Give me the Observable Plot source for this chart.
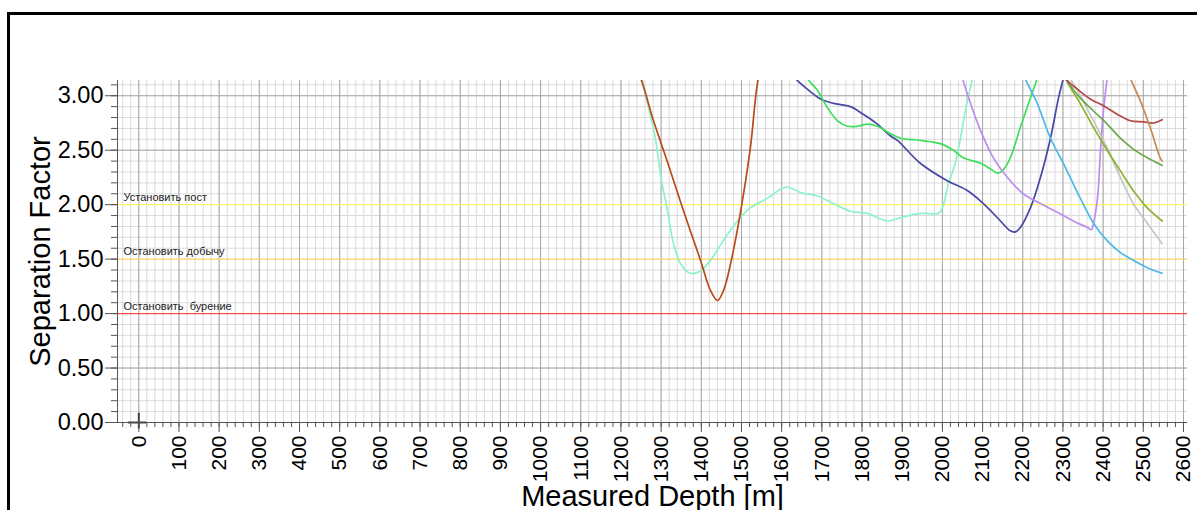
<!DOCTYPE html>
<html><head><meta charset="utf-8">
<script src="https://cdn.jsdelivr.net/npm/d3@7"></script>
<script src="https://cdn.jsdelivr.net/npm/@observablehq/plot@0.6"></script>
<style>
body{margin:0;background:#fff;}
#wrap{position:relative;width:1197px;height:510px;overflow:hidden;font-family:"Liberation Sans",Arial,sans-serif;}
#frame{position:absolute;left:7px;top:12px;width:1400px;height:600px;border:3px solid #000;box-sizing:border-box;pointer-events:none;}
</style></head><body><div id="wrap"><div id="frame"></div></div>
<script>
// Tick values
const xMajor = d3.range(0, 2601, 100);
const xMinor = d3.range(-40, 2601, 20);
const yMajor = [0, 0.5, 1, 1.5, 2, 2.5, 3];
const yMinor = d3.range(0, 31, 1).map(d => d / 10).concat([3.1]);

// Threshold levels
const levelValues = [2.0, 1.5, 1.0];
const levelLabels = ["Установить пост", "Остановить добычу", "Остановить  бурение"];
const levelColors = ["#fbf56a", "#fdd060", "#ff4a4a"];

// Series (Measured Depth [m] vs Separation Factor)
const brownMD = [1230, 1249, 1281, 1316, 1356, 1398, 1423, 1440, 1455, 1473, 1498, 1522, 1542, 1555];
const brownSF = [3.30, 3.16, 2.77, 2.39, 1.94, 1.49, 1.21, 1.12, 1.21, 1.46, 1.94, 2.52, 3.16, 3.30];

const aquaMD = [1238, 1252, 1268, 1285, 1300, 1316, 1331, 1348, 1373, 1398, 1423, 1455, 1490, 1522, 1565, 1602, 1617, 1647, 1689, 1729, 1771, 1813, 1863, 1896, 1945, 1990, 2000, 2015, 2032, 2045, 2057, 2075, 2085];
const aquaSF = [3.30, 3.16, 2.90, 2.62, 2.24, 1.94, 1.64, 1.46, 1.37, 1.39, 1.49, 1.67, 1.85, 1.97, 2.06, 2.15, 2.16, 2.11, 2.08, 2.01, 1.94, 1.92, 1.85, 1.88, 1.92, 1.92, 1.97, 2.19, 2.38, 2.61, 2.86, 3.16, 3.30];

const navyMD = [1610, 1634, 1664, 1697, 1729, 1771, 1803, 1838, 1871, 1888, 1945, 2012, 2062, 2102, 2137, 2169, 2182, 2194, 2219, 2244, 2269, 2289, 2301, 2310];
const navySF = [3.30, 3.16, 3.06, 2.97, 2.93, 2.90, 2.83, 2.74, 2.63, 2.59, 2.38, 2.22, 2.13, 2.01, 1.88, 1.76, 1.75, 1.79, 1.97, 2.25, 2.61, 2.98, 3.16, 3.30];

const greenMD = [1650, 1664, 1689, 1714, 1739, 1764, 1789, 1813, 1838, 1871, 1896, 1945, 1995, 2027, 2052, 2095, 2119, 2137, 2149, 2169, 2194, 2219, 2236, 2245];
const greenSF = [3.30, 3.16, 3.05, 2.89, 2.77, 2.72, 2.72, 2.74, 2.72, 2.65, 2.61, 2.59, 2.56, 2.50, 2.43, 2.38, 2.33, 2.29, 2.31, 2.43, 2.71, 2.98, 3.16, 3.30];

const purpleMD = [2040, 2050, 2070, 2095, 2127, 2162, 2201, 2244, 2286, 2326, 2361, 2371, 2376, 2386, 2393, 2400, 2410, 2415];
const purpleSF = [3.30, 3.16, 2.93, 2.68, 2.43, 2.25, 2.10, 2.01, 1.93, 1.85, 1.79, 1.77, 1.83, 2.06, 2.47, 2.83, 3.16, 3.30];

const skyMD = [2195, 2206, 2236, 2269, 2301, 2343, 2376, 2410, 2443, 2475, 2500, 2517, 2547];
const skySF = [3.30, 3.16, 2.93, 2.61, 2.38, 2.06, 1.83, 1.67, 1.56, 1.49, 1.44, 1.41, 1.37];

const redMD = [2295, 2306, 2336, 2368, 2400, 2435, 2468, 2500, 2525, 2547];
const redSF = [3.30, 3.16, 3.06, 2.97, 2.91, 2.83, 2.77, 2.76, 2.75, 2.78];

const mgreenMD = [2300, 2311, 2343, 2376, 2410, 2443, 2475, 2510, 2547];
const mgreenSF = [3.30, 3.14, 2.98, 2.86, 2.74, 2.61, 2.51, 2.43, 2.36];

const oliveMD = [2295, 2306, 2343, 2376, 2410, 2443, 2475, 2510, 2547];
const oliveSF = [3.30, 3.16, 2.93, 2.71, 2.50, 2.31, 2.13, 1.97, 1.85];

const greyMD = [2305, 2318, 2336, 2376, 2410, 2443, 2475, 2510, 2547];
const greySF = [3.30, 3.16, 3.05, 2.77, 2.52, 2.25, 2.01, 1.83, 1.64];

const tanMD = [2455, 2468, 2493, 2517, 2542, 2547];
const tanSF = [3.30, 3.16, 2.95, 2.71, 2.43, 2.40];

const seriesDefs = [
  ["aqua", aquaMD, aquaSF, "#8cf3c8"],
  ["brown", brownMD, brownSF, "#b94a1a"],
  ["navy", navyMD, navySF, "#4747a6"],
  ["green", greenMD, greenSF, "#3ede5c"],
  ["purple", purpleMD, purpleSF, "#bb8df0"],
  ["sky", skyMD, skySF, "#4cb9e6"],
  ["grey", greyMD, greySF, "#c4c4c4"],
  ["olive", oliveMD, oliveSF, "#8db233"],
  ["mgreen", mgreenMD, mgreenSF, "#6aa84a"],
  ["red", redMD, redSF, "#b24848"],
  ["tan", tanMD, tanSF, "#c48a52"]
];
const rows = seriesDefs.flatMap(([name, md, sf]) => md.map((x, i) => ({name, x, y: sf[i]})));
const colorMap = Object.fromEntries(seriesDefs.map(d => [d[0], d[3]]));
const levels = levelValues.map((v, i) => ({v, label: levelLabels[i], color: levelColors[i]}));

const xDomain = [-53, 2610];

const chart = Plot.plot({
  width: 1197,
  height: 510,
  marginLeft: 117,
  marginRight: 10,
  marginTop: 80,
  marginBottom: 88,
  style: {fontFamily: "'Liberation Sans', Arial, sans-serif", background: "transparent", color: "#000"},
  x: {domain: xDomain, axis: null},
  y: {domain: [0, 3.14], axis: null},
  marks: [
    Plot.ruleX(xMinor, {stroke: "#dadada", strokeWidth: 1}),
    Plot.ruleY(yMinor.filter(v => !levelValues.includes(v)), {stroke: "#dadada", strokeWidth: 1}),
    Plot.ruleX(xMajor, {stroke: "#a8a8a8", strokeWidth: 1}),
    Plot.ruleY(yMajor.filter(v => !levelValues.includes(v)), {stroke: "#a8a8a8", strokeWidth: 1}),
    Plot.ruleY(levels, {y: "v", stroke: "color", strokeWidth: 1.3}),
    Plot.text(levels, {x: -38, y: "v", text: "label", textAnchor: "start", lineAnchor: "bottom", dy: -4, fontSize: 11, fill: "#222"}),
    Plot.line(rows, {x: "x", y: "y", z: "name", stroke: d => colorMap[d.name], strokeWidth: 1.7, curve: "catmull-rom", clip: true}),
    Plot.ruleX([xDomain[0]], {stroke: "#555", strokeWidth: 1}),
    Plot.ruleY([0], {stroke: "#555", strokeWidth: 1}),
    Plot.ruleX([0], {y1: 0.085, y2: -0.06, stroke: "#444", strokeWidth: 2}),
    Plot.ruleY([0], {x1: -26, x2: 20, stroke: "#444", strokeWidth: 2}),
    Plot.axisY(yMinor, {tickSize: 6, tickFormat: () => "", label: null, stroke: "#555"}),
    Plot.axisY(yMajor, {tickSize: 12, tickPadding: 2, fontSize: 23.5, tickFormat: d => d.toFixed(2), label: null, stroke: "#555"}),
    Plot.axisX(xMinor, {tickSize: 5, tickFormat: () => "", label: null, stroke: "#555"}),
    Plot.axisX(xMajor, {tickSize: 10, tickPadding: 3, tickRotate: -90, fontSize: 21, tickFormat: d => String(d), label: null, stroke: "#555"}),
    Plot.text(["Separation Factor"], {frameAnchor: "left", dx: -68, rotate: -90, textAnchor: "middle", lineAnchor: "bottom", fontSize: 29, fill: "#000"}),
    Plot.text(["Measured Depth [m]"], {frameAnchor: "bottom", dy: 83, lineAnchor: "bottom", fontSize: 29, fill: "#000"})
  ]
});
document.getElementById("wrap").prepend(chart);
</script>
</body></html>
